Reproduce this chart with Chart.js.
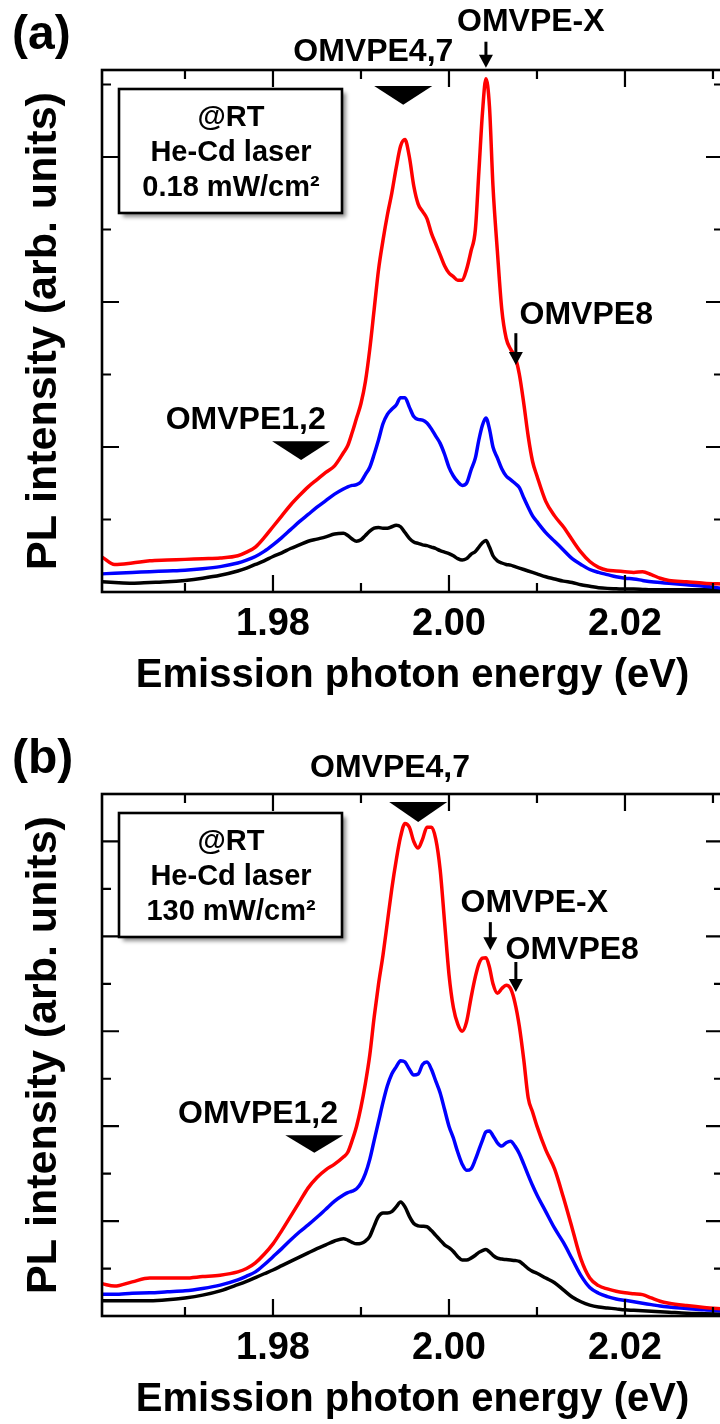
<!DOCTYPE html>
<html>
<head>
<meta charset="utf-8">
<script src="https://cdn.jsdelivr.net/npm/chart.js@4.4.1/dist/chart.umd.min.js"></script>
<style>
  html, body { margin: 0; padding: 0; background: #fff; }
  body { width: 720px; height: 1424px; overflow: hidden; position: relative; }
  .panel { position: absolute; left: 0; width: 720px; height: 700px; overflow: hidden; }
  #panelA { top: 0; }
  #panelB { top: 724px; }
</style>
</head>
<body>
<div class="panel" id="panelA"><canvas id="chartA" width="724" height="700"></canvas></div>
<div class="panel" id="panelB"><canvas id="chartB" width="724" height="700"></canvas></div>
<script>
const FONT = '"Liberation Sans", Arial, sans-serif';

// photon energy grid (eV), shared by both panels
const energy = [
  1.9606, 1.9620, 1.9640, 1.9660, 1.9680, 1.9700, 1.9720, 1.9740, 1.9760, 1.9770,
  1.9780, 1.9790, 1.9800, 1.9810, 1.9820, 1.9830, 1.9840, 1.9850, 1.9860, 1.9870,
  1.9880, 1.9885, 1.9890, 1.9895, 1.9900, 1.9905, 1.9910, 1.9915, 1.9920, 1.9925,
  1.9930, 1.9935, 1.9940, 1.9945, 1.9950, 1.9955, 1.9960, 1.9965, 1.9970, 1.9975,
  1.9980, 1.9985, 1.9990, 1.9995, 2.0000, 2.0005, 2.0010, 2.0015, 2.0020, 2.0025,
  2.0030, 2.0034, 2.0038, 2.0042, 2.0046, 2.0050, 2.0055, 2.0060, 2.0065, 2.0070,
  2.0075, 2.0080, 2.0085, 2.0090, 2.0095, 2.0100, 2.0110, 2.0120, 2.0130, 2.0140,
  2.0150, 2.0160, 2.0170, 2.0180, 2.0190, 2.0200, 2.0210, 2.0220, 2.0230, 2.0240,
  2.0250, 2.0270, 2.0290, 2.0312
];

// (a) 0.18 mW/cm2
const redA = [
  0.48, 0.38, 0.40, 0.43, 0.44, 0.45, 0.46, 0.47, 0.50, 0.55,
  0.62, 0.75, 0.90, 1.05, 1.20, 1.33, 1.45, 1.55, 1.65, 1.74,
  1.92, 2.02, 2.20, 2.40, 2.60, 2.90, 3.35, 3.90, 4.45, 4.85,
  5.20, 5.50, 5.85, 6.15, 6.24, 6.00, 5.60, 5.35, 5.25, 5.15,
  4.95, 4.80, 4.65, 4.50, 4.40, 4.35, 4.30, 4.30, 4.45, 4.70,
  5.00, 5.80, 6.60, 7.08, 6.70, 5.60, 4.70, 3.90, 3.50, 3.35,
  3.25, 3.00, 2.60, 2.15, 1.80, 1.60, 1.25, 1.05, 0.90, 0.72,
  0.55, 0.42, 0.34, 0.30, 0.29, 0.28, 0.27, 0.28, 0.24, 0.19,
  0.16, 0.14, 0.12, 0.11
];
const blueA = [
  0.25, 0.26, 0.27, 0.28, 0.29, 0.30, 0.32, 0.35, 0.40, 0.44,
  0.49, 0.56, 0.65, 0.75, 0.86, 0.97, 1.07, 1.17, 1.26, 1.35,
  1.42, 1.45, 1.47, 1.48, 1.52, 1.62, 1.72, 1.90, 2.10, 2.32,
  2.45, 2.52, 2.58, 2.68, 2.68, 2.55, 2.42, 2.38, 2.37, 2.33,
  2.25, 2.15, 2.05, 1.90, 1.72, 1.60, 1.52, 1.47, 1.50, 1.68,
  1.85, 2.10, 2.30, 2.40, 2.25, 2.00, 1.85, 1.70, 1.60, 1.55,
  1.50, 1.44, 1.30, 1.17, 1.05, 0.97, 0.82, 0.70, 0.58, 0.46,
  0.38, 0.31, 0.27, 0.24, 0.21, 0.19, 0.18, 0.16, 0.14, 0.13,
  0.12, 0.10, 0.08, 0.05
];
const blackA = [
  0.14, 0.13, 0.12, 0.13, 0.14, 0.16, 0.19, 0.23, 0.29, 0.33,
  0.38, 0.43, 0.49, 0.54, 0.60, 0.65, 0.70, 0.73, 0.76, 0.80,
  0.81, 0.78, 0.73, 0.70, 0.72, 0.78, 0.84, 0.88, 0.89, 0.88,
  0.88, 0.90, 0.92, 0.90, 0.82, 0.74, 0.69, 0.67, 0.65, 0.64,
  0.62, 0.60, 0.57, 0.55, 0.53, 0.50, 0.46, 0.44, 0.46, 0.52,
  0.56, 0.62, 0.68, 0.71, 0.62, 0.50, 0.43, 0.40, 0.38, 0.37,
  0.35, 0.33, 0.31, 0.29, 0.27, 0.25, 0.21, 0.18, 0.15, 0.13,
  0.10, 0.08, 0.06, 0.05, 0.045, 0.04, 0.04, 0.035, 0.03, 0.03,
  0.03, 0.03, 0.03, 0.03
];

// (b) 130 mW/cm2
const redB = [
  0.68, 0.63, 0.72, 0.80, 0.80, 0.80, 0.83, 0.86, 0.93, 1.00,
  1.12, 1.30, 1.52, 1.80, 2.10, 2.40, 2.70, 2.92, 3.08, 3.20,
  3.35, 3.45, 3.70, 4.00, 4.40, 4.90, 5.50, 6.30, 7.00, 7.60,
  8.30, 9.00, 9.60, 10.10, 10.38, 10.30, 10.00, 9.86, 10.05, 10.30,
  10.30, 10.05, 9.40, 8.30, 7.20, 6.50, 6.15, 6.00, 6.20, 6.70,
  7.15, 7.42, 7.54, 7.55, 7.35, 7.00, 6.80, 6.90, 6.97, 6.90,
  6.60, 6.10, 5.40, 4.60, 4.30, 4.00, 3.50, 3.10, 2.50, 1.85,
  1.20, 0.80, 0.64, 0.57, 0.52, 0.49, 0.47, 0.45, 0.38, 0.31,
  0.27, 0.22, 0.18, 0.15
];
const blueB = [
  0.46, 0.46, 0.48, 0.49, 0.51, 0.53, 0.58, 0.65, 0.76, 0.84,
  0.93, 1.08, 1.25, 1.42, 1.60, 1.77, 1.92, 2.08, 2.25, 2.42,
  2.55, 2.60, 2.63, 2.68, 2.80, 3.00, 3.30, 3.70, 4.10, 4.50,
  4.85, 5.10, 5.25, 5.38, 5.35, 5.20, 5.08, 5.10, 5.30, 5.35,
  5.20, 4.95, 4.70, 4.35, 4.00, 3.75, 3.45, 3.20, 3.07, 3.10,
  3.30, 3.50, 3.70, 3.88, 3.90, 3.80, 3.65, 3.58, 3.65, 3.68,
  3.58, 3.42, 3.20, 2.97, 2.75, 2.55, 2.20, 1.85, 1.55, 1.20,
  0.85, 0.60, 0.48, 0.41, 0.36, 0.33, 0.30, 0.27, 0.24, 0.21,
  0.19, 0.16, 0.13, 0.11
];
const blackB = [
  0.32, 0.32, 0.32, 0.32, 0.34, 0.38, 0.44, 0.53, 0.66, 0.73,
  0.81, 0.89, 0.97, 1.06, 1.15, 1.24, 1.33, 1.42, 1.50, 1.58,
  1.63, 1.60, 1.55, 1.52, 1.53, 1.58, 1.68, 1.90, 2.10, 2.17,
  2.17, 2.20, 2.30, 2.40, 2.30, 2.10, 1.95, 1.90, 1.89, 1.88,
  1.80, 1.70, 1.60, 1.50, 1.44, 1.36, 1.25, 1.18, 1.18, 1.22,
  1.28, 1.34, 1.38, 1.40, 1.35, 1.28, 1.22, 1.20, 1.19, 1.18,
  1.17, 1.15, 1.08, 1.00, 0.94, 0.90, 0.80, 0.70, 0.55, 0.40,
  0.30, 0.23, 0.19, 0.17, 0.15, 0.13, 0.12, 0.11, 0.10, 0.09,
  0.08, 0.06, 0.05, 0.04
];

// axis ranges and tick values
const E_MIN = 1.96057;
const E_MAX = 2.03114;
const xMajorTicks = [1.98, 2.00, 2.02];
const xMinorTicks = [1.97, 1.99, 2.01, 2.03];
const yMaxA = 7.2;
const yMaxB = 11;

// peak markers (energy, intensity in each panel's units)
const labelsA = [
  { text: 'OMVPE4,7', x: 1.9914, y: 7.45 },
  { text: 'OMVPE-X', x: 2.0093, y: 7.86 },
  { text: 'OMVPE8', x: 2.0156, y: 3.82 },
  { text: 'OMVPE1,2', x: 1.9769, y: 2.37 }
];
const trianglesA = [
  { x: 1.9948, top: 6.98, tip: 6.72 },
  { x: 1.9832, top: 2.08, tip: 1.82 }
];
const arrowsA = [
  { x: 2.0042, from: 7.59, to: 7.23 },
  { x: 2.0076, from: 3.57, to: 3.13 }
];
const labelsB = [
  { text: 'OMVPE4,7', x: 1.9933, y: 11.55 },
  { text: 'OMVPE-X', x: 2.0097, y: 8.70 },
  { text: 'OMVPE8', x: 2.0140, y: 7.71 },
  { text: 'OMVPE1,2', x: 1.9783, y: 4.26 }
];
const trianglesB = [
  { x: 1.9965, top: 10.83, tip: 10.41 },
  { x: 1.9847, top: 3.81, tip: 3.44 }
];
const arrowsB = [
  { x: 2.0047, from: 8.30, to: 7.71 },
  { x: 2.0076, from: 7.46, to: 6.83 }
];

const COLOR_RED = '#ff0000';
const COLOR_BLUE = '#0000ff';
const COLOR_BLACK = '#000000';

// closed frame with inward ticks on all four sides
const framePlugin = {
  id: 'frame',
  afterDatasetsDraw(chart) {
    const { ctx, chartArea: a, scales: { x, y } } = chart;
    ctx.save();
    ctx.strokeStyle = '#000';
    ctx.lineWidth = 2.6;
    ctx.strokeRect(a.left, a.top, a.right - a.left, a.bottom - a.top);
    ctx.lineWidth = 2.2;
    const tickX = (v, len) => {
      const px = x.getPixelForValue(v);
      ctx.beginPath();
      ctx.moveTo(px, a.bottom); ctx.lineTo(px, a.bottom - len);
      ctx.moveTo(px, a.top); ctx.lineTo(px, a.top + len);
      ctx.stroke();
    };
    xMajorTicks.forEach(v => tickX(v, 17));
    xMinorTicks.forEach(v => tickX(v, 9));
    for (let v = 1; v < y.max; v++) {
      const py = y.getPixelForValue(v);
      const len = v % 2 === 0 ? 17 : 9;
      ctx.beginPath();
      ctx.moveTo(a.left, py); ctx.lineTo(a.left + len, py);
      ctx.moveTo(a.right, py); ctx.lineTo(a.right - len, py);
      ctx.stroke();
    }
    ctx.restore();
  }
};

// peak labels, markers, condition box and panel letter
const notesPlugin = {
  id: 'notes',
  afterDraw(chart, args, o) {
    const { ctx, scales: { x, y } } = chart;
    ctx.save();
    ctx.fillStyle = '#000';
    ctx.strokeStyle = '#000';
    ctx.textAlign = 'center';
    ctx.textBaseline = 'middle';
    ctx.font = `bold 32px ${FONT}`;
    o.labels.forEach(l => ctx.fillText(l.text, x.getPixelForValue(l.x), y.getPixelForValue(l.y)));

    o.triangles.forEach(t => {
      const px = x.getPixelForValue(t.x);
      const top = y.getPixelForValue(t.top);
      ctx.beginPath();
      ctx.moveTo(px - 29, top);
      ctx.lineTo(px + 29, top);
      ctx.lineTo(px, y.getPixelForValue(t.tip));
      ctx.closePath();
      ctx.fill();
    });

    o.arrows.forEach(ar => {
      const px = x.getPixelForValue(ar.x);
      const y0 = y.getPixelForValue(ar.from);
      const y1 = y.getPixelForValue(ar.to);
      ctx.lineWidth = 3;
      ctx.beginPath();
      ctx.moveTo(px, y0); ctx.lineTo(px, y1 - 10);
      ctx.stroke();
      ctx.beginPath();
      ctx.moveTo(px - 7, y1 - 13);
      ctx.lineTo(px + 7, y1 - 13);
      ctx.lineTo(px, y1);
      ctx.closePath();
      ctx.fill();
    });

    // condition box
    ctx.save();
    ctx.shadowColor = 'rgba(0,0,0,0.45)';
    ctx.shadowBlur = 4;
    ctx.shadowOffsetX = 4;
    ctx.shadowOffsetY = 4;
    ctx.fillStyle = '#fff';
    ctx.fillRect(119, 89, 223, 124);
    ctx.restore();
    ctx.lineWidth = 2.6;
    ctx.strokeRect(119, 89, 223, 124);
    ctx.font = `bold 29px ${FONT}`;
    o.box.forEach((line, i) => ctx.fillText(line, 231, 118 + i * 35));

    ctx.font = `bold 48px ${FONT}`;
    ctx.textAlign = 'left';
    ctx.fillText(o.letter, 12, 36);
    ctx.restore();
  }
};

function series(values) {
  return values.map((v, i) => ({ x: energy[i], y: v }));
}

function makePanel(id, yMax, red, blue, black, notes) {
  const line = (data, color) => ({
    data: series(data),
    borderColor: color,
    borderWidth: 3.5,
    pointRadius: 0,
    cubicInterpolationMode: 'monotone',
    fill: false
  });
  return new Chart(document.getElementById(id), {
    type: 'line',
    data: {
      datasets: [line(red, COLOR_RED), line(blue, COLOR_BLUE), line(black, COLOR_BLACK)]
    },
    options: {
      responsive: false,
      animation: false,
      layout: { padding: { top: 70, right: 1, left: 0, bottom: 0 } },
      plugins: {
        legend: { display: false },
        tooltip: { enabled: false },
        notes: notes
      },
      scales: {
        x: {
          type: 'linear',
          min: E_MIN,
          max: E_MAX,
          grid: { display: false, drawTicks: false },
          border: { display: false },
          afterBuildTicks: s => { s.ticks = xMajorTicks.map(v => ({ value: v })); },
          afterFit: s => { s.height = 108; },
          ticks: {
            autoSkip: false,
            maxRotation: 0,
            padding: 10,
            color: '#000',
            font: { family: FONT, size: 38, weight: 'bold' },
            callback: v => v.toFixed(2)
          },
          title: {
            display: true,
            text: 'Emission photon energy (eV)',
            color: '#000',
            font: { family: FONT, size: 40, weight: 'bold' },
            padding: { top: 0, bottom: 0 }
          }
        },
        y: {
          min: 0,
          max: yMax,
          grid: { display: false, drawTicks: false },
          border: { display: false },
          ticks: { display: false },
          afterFit: s => { s.width = 102; },
          title: {
            display: true,
            text: 'PL intensity (arb. units)',
            color: '#000',
            font: { family: FONT, size: 43, weight: 'bold' },
            padding: { top: 18, bottom: 0 }
          }
        }
      }
    },
    plugins: [framePlugin, notesPlugin]
  });
}

makePanel('chartA', yMaxA, redA, blueA, blackA, {
  labels: labelsA, triangles: trianglesA, arrows: arrowsA,
  box: ['@RT', 'He-Cd laser', '0.18 mW/cm²'], letter: '(a)'
});
makePanel('chartB', yMaxB, redB, blueB, blackB, {
  labels: labelsB, triangles: trianglesB, arrows: arrowsB,
  box: ['@RT', 'He-Cd laser', '130 mW/cm²'], letter: '(b)'
});
</script>
</body>
</html>
